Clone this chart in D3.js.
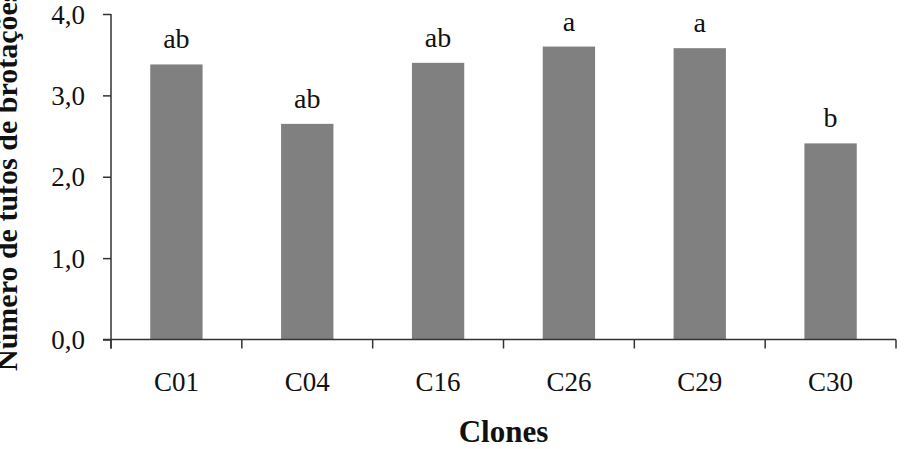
<!DOCTYPE html>
<html>
<head>
<meta charset="utf-8">
<script src="https://cdn.jsdelivr.net/npm/d3@7"></script>
<style>
  body { margin: 0; background: #fff; }
  text { font-family: "Liberation Serif", "Times New Roman", serif; fill: #111; }
</style>
</head>
<body>
<svg id="chart" width="905" height="449"></svg>
<script>
// data
var clones = ["C01", "C04", "C16", "C26", "C29", "C30"];
var tufos = [3.38, 2.65, 3.40, 3.60, 3.58, 2.41];
var letras = ["ab", "ab", "ab", "a", "a", "b"];
var yTicks = [0, 1, 2, 3, 4];

var svg = d3.select("#chart");
var mLeft = 111, mRight = 896, mTop = 14, mBottom = 339.5;

var x = d3.scaleBand()
  .domain(clones)
  .range([mLeft, mRight])
  .padding(0);
var y = d3.scaleLinear()
  .domain([0, 4])
  .range([mBottom, mTop]);

var fmt = function(d) { return d3.format(".1f")(d).replace(".", ","); };

// bars
var barW = x.bandwidth() * 0.4;
svg.append("g").selectAll("rect")
  .data(clones)
  .enter().append("rect")
  .attr("x", function(d) { return x(d) + (x.bandwidth() - barW) / 2; })
  .attr("y", function(d, i) { return y(tufos[i]); })
  .attr("width", barW)
  .attr("height", function(d, i) { return mBottom - y(tufos[i]); })
  .attr("fill", "#808080");

// letters above bars
svg.append("g").selectAll("text")
  .data(clones)
  .enter().append("text")
  .attr("x", function(d) { return x(d) + x.bandwidth() / 2; })
  .attr("y", function(d, i) { return y(tufos[i]) - 16; })
  .attr("text-anchor", "middle")
  .attr("font-size", 28)
  .text(function(d, i) { return letras[i]; });

// y axis
var gy = svg.append("g")
  .attr("transform", "translate(" + mLeft + ",0)")
  .call(d3.axisLeft(y).tickValues(yTicks).tickFormat(fmt).tickSize(8).tickSizeOuter(0).tickPadding(18));
gy.select(".domain").attr("stroke", "#333").attr("stroke-width", 1.5)
  .attr("d", "M0," + mTop + "V" + (mBottom + 9));
gy.selectAll(".tick line").attr("stroke", "#333").attr("stroke-width", 1.5);
gy.selectAll(".tick text").attr("font-size", 27).attr("font-family", null).attr("fill", "#111").attr("dy", "0.34em");

// x axis, ticks on band edges
var gx = svg.append("g")
  .attr("transform", "translate(0," + mBottom + ")");
gx.append("path")
  .attr("d", "M" + (mLeft - 8) + ",0H" + mRight)
  .attr("stroke", "#333").attr("stroke-width", 1.5).attr("fill", "none");
var edges = clones.map(function(d) { return x(d); }).concat([mRight]);
gx.selectAll("line")
  .data(edges)
  .enter().append("line")
  .attr("x1", function(d) { return d; })
  .attr("x2", function(d) { return d; })
  .attr("y1", 0).attr("y2", 9)
  .attr("stroke", "#333").attr("stroke-width", 1.5);
gx.selectAll("text")
  .data(clones)
  .enter().append("text")
  .attr("x", function(d) { return x(d) + x.bandwidth() / 2; })
  .attr("y", 51)
  .attr("text-anchor", "middle")
  .attr("font-size", 27)
  .text(function(d) { return d; });

// axis titles
svg.append("text")
  .attr("x", (mLeft + mRight) / 2)
  .attr("y", 442)
  .attr("text-anchor", "middle")
  .attr("font-size", 31)
  .attr("font-weight", "bold")
  .text("Clones");

svg.append("text")
  .attr("transform", "translate(17,371) rotate(-90)")
  .attr("text-anchor", "start")
  .attr("font-size", 30)
  .attr("font-weight", "bold")
  .text("Número de tufos de brotações");
</script>
</body>
</html>
